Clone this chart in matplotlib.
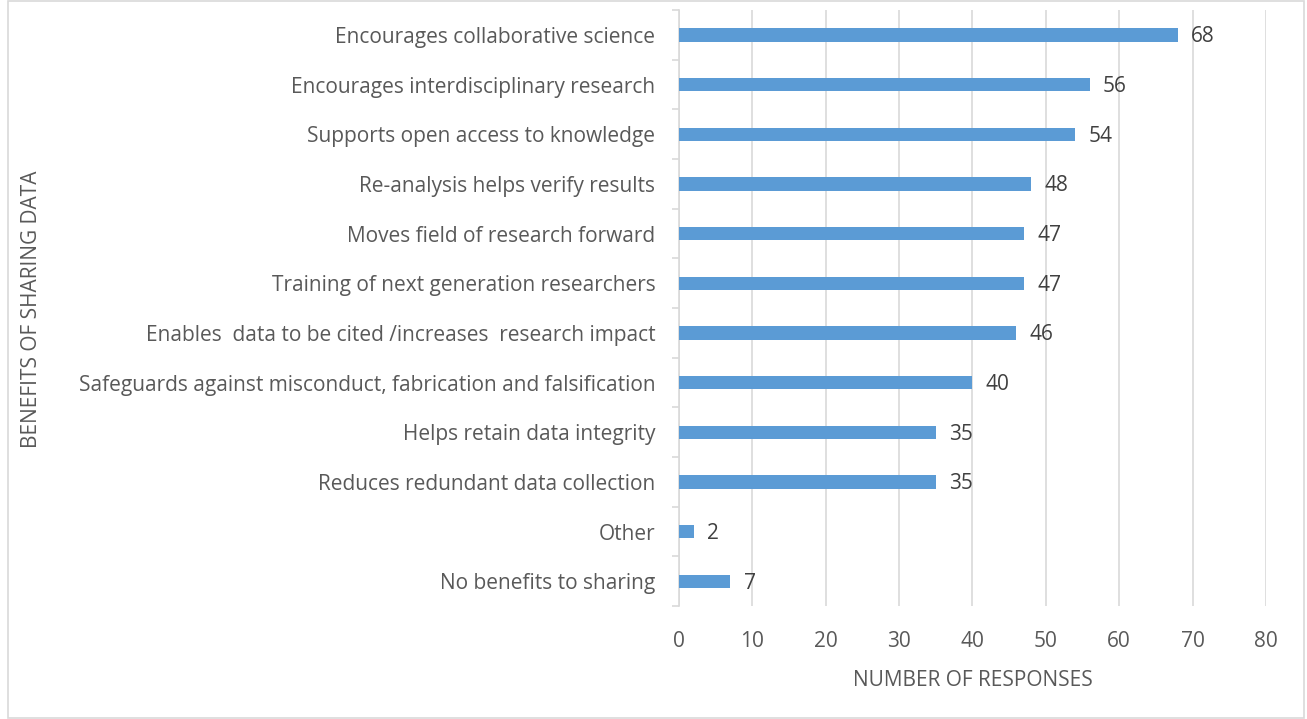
"""Benefits of sharing data: horizontal bar chart of response counts."""

import matplotlib

matplotlib.use("Agg")
import matplotlib.pyplot as plt
from matplotlib.patches import Rectangle

categories = [
    "Encourages collaborative science",
    "Encourages interdisciplinary research",
    "Supports open access to knowledge",
    "Re-analysis helps verify results",
    "Moves field of research forward",
    "Training of next generation researchers",
    "Enables  data to be cited /increases  research impact",
    "Safeguards against misconduct, fabrication and falsification",
    "Helps retain data integrity",
    "Reduces redundant data collection",
    "Other",
    "No benefits to sharing",
]
responses = [68, 56, 54, 48, 47, 47, 46, 40, 35, 35, 2, 7]
x_ticks = [0, 10, 20, 30, 40, 50, 60, 70, 80]

BAR_COLOR = "#5B9BD5"
TEXT_COLOR = "#595959"
GRID_COLOR = "#D9D9D9"

plt.rcParams["font.family"] = ["Open Sans", "DejaVu Sans"]

fig = plt.figure(figsize=(13.07, 7.19), dpi=100)
ax = fig.add_axes([0.5195, 0.157, 0.4491, 0.829])

y_pos = list(range(len(categories)))
ax.barh(y_pos, responses, height=0.27, color=BAR_COLOR, zorder=3)
for y, v in zip(y_pos, responses):
    ax.text(v + 1.8, y + 0.04, str(v), va="center", ha="left", fontsize=15, color="#404040")

ax.set_xlim(0, 80)
ax.set_ylim(len(categories) - 0.5, -0.5)
ax.set_xticks(x_ticks)
ax.set_xticklabels([str(t) for t in x_ticks], fontsize=15, color=TEXT_COLOR)
ax.set_yticks(y_pos)
ax.set_yticklabels(categories, fontsize=15, color=TEXT_COLOR)
ax.set_yticks([i - 0.5 for i in range(len(categories) + 1)], minor=True)
ax.tick_params(axis="y", which="major", length=0, pad=17)
ax.tick_params(axis="y", which="minor", length=5, color=GRID_COLOR, width=1.2)
ax.tick_params(axis="x", length=0, pad=18)

ax.grid(axis="x", color=GRID_COLOR, linewidth=1.2, zorder=0)
for side in ("top", "right", "bottom"):
    ax.spines[side].set_visible(False)
ax.spines["left"].set_color(GRID_COLOR)
ax.spines["left"].set_linewidth(1.2)

ax.set_xlabel("NUMBER OF RESPONSES", fontsize=15, color=TEXT_COLOR, labelpad=13)
fig.text(0.024, 0.57, "BENEFITS OF SHARING DATA", rotation=90, fontsize=15,
         color=TEXT_COLOR, ha="center", va="center")

fig.patches.append(Rectangle((0.006, 0.002), 0.992, 0.996, transform=fig.transFigure,
                             fill=False, edgecolor=GRID_COLOR, linewidth=1.2))

fig.savefig("out.png", dpi=100)
